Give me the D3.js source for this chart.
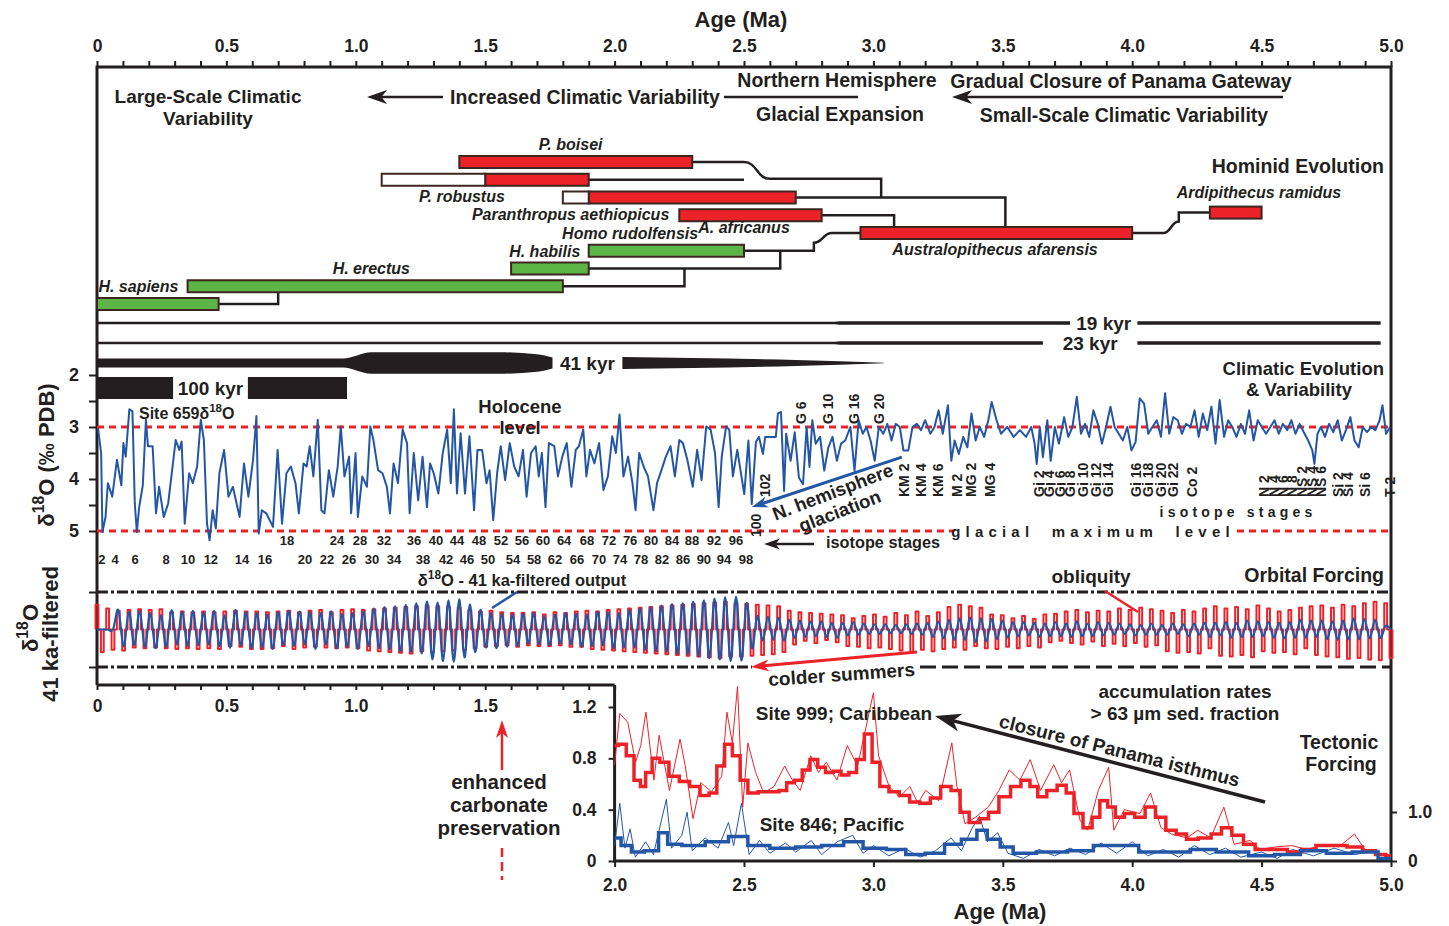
<!DOCTYPE html>
<html>
<head>
<meta charset="utf-8">
<script src="https://cdn.jsdelivr.net/npm/d3@7"></script>
<style>
body { margin: 0; background: #fff; }
text { font-family: "Liberation Sans", Arial, Helvetica, sans-serif; font-weight: bold; }
</style>
</head>
<body>
<div id="chart"></div>
<script>
// ---- data ----
var ageTicks = d3.range(0, 5.001, 0.1);

// Site 659 d18O (age Ma, permil)
var site659 = [
[0.004,3.02],[0.016,3.50],[0.021,5.02],[0.033,4.73],[0.042,4.08],[0.059,4.34],[0.077,3.63],[0.094,4.12],[0.102,3.31],[0.111,3.57],
[0.125,2.66],[0.137,2.70],[0.146,4.47],[0.154,5.02],[0.163,4.54],[0.177,4.12],[0.189,2.86],[0.197,3.37],[0.215,3.37],[0.228,4.66],
[0.240,4.15],[0.258,4.73],[0.275,4.47],[0.292,3.76],[0.304,3.25],[0.318,3.44],[0.327,3.28],[0.339,4.86],[0.356,3.89],[0.370,4.08],
[0.387,3.76],[0.401,2.86],[0.413,3.25],[0.425,4.86],[0.435,5.18],[0.447,4.60],[0.459,4.95],[0.473,3.89],[0.491,3.44],[0.508,4.34],
[0.525,4.15],[0.551,4.73],[0.568,3.70],[0.585,4.34],[0.603,3.63],[0.616,2.79],[0.625,5.05],[0.637,4.60],[0.654,4.66],[0.680,4.92],
[0.698,3.44],[0.715,4.86],[0.732,3.89],[0.749,3.76],[0.767,4.08],[0.780,4.66],[0.798,3.70],[0.810,3.76],[0.822,3.37],[0.836,3.95],
[0.853,2.86],[0.867,4.60],[0.879,4.66],[0.896,3.83],[0.913,4.34],[0.930,3.76],[0.942,2.99],[0.956,3.95],[0.974,3.57],[0.982,4.66],
[0.999,3.50],[1.008,4.73],[1.025,3.95],[1.043,4.15],[1.056,2.99],[1.068,3.25],[1.086,3.83],[1.103,3.89],[1.120,4.15],[1.132,4.66],
[1.146,3.70],[1.163,4.08],[1.181,3.05],[1.198,3.31],[1.208,4.66],[1.224,3.50],[1.241,4.41],[1.258,3.57],[1.275,4.54],[1.287,3.70],
[1.301,3.89],[1.319,4.28],[1.336,3.50],[1.353,3.05],[1.367,4.08],[1.379,2.66],[1.391,4.28],[1.405,3.12],[1.422,4.28],[1.439,3.18],
[1.457,4.60],[1.470,3.44],[1.488,3.44],[1.505,4.08],[1.517,3.83],[1.531,4.79],[1.546,3.89],[1.560,3.37],[1.577,4.02],[1.595,3.31],
[1.612,3.76],[1.629,3.95],[1.646,3.44],[1.660,4.34],[1.677,3.50],[1.695,3.37],[1.707,3.95],[1.719,3.50],[1.733,4.54],[1.746,3.31],
[1.767,3.37],[1.781,3.95],[1.798,3.57],[1.815,3.31],[1.833,4.15],[1.850,3.44],[1.862,3.37],[1.879,3.05],[1.891,3.95],[1.905,3.44],
[1.922,3.70],[1.940,3.31],[1.957,4.21],[1.974,3.95],[1.991,3.18],[2.005,3.50],[2.019,2.76],[2.034,3.95],[2.052,3.57],[2.069,4.08],
[2.081,4.60],[2.095,3.50],[2.112,3.76],[2.129,3.95],[2.150,4.60],[2.164,4.08],[2.181,3.83],[2.198,3.57],[2.216,3.37],[2.233,3.95],
[2.250,3.25],[2.264,3.31],[2.281,3.63],[2.302,4.15],[2.319,3.44],[2.336,4.02],[2.354,2.99],[2.371,3.05],[2.388,3.50],[2.402,4.54],
[2.414,3.57],[2.431,2.99],[2.443,3.05],[2.457,3.95],[2.474,3.44],[2.501,4.29],[2.517,3.26],[2.530,4.48],[2.546,3.29],[2.558,3.19],
[2.573,3.52],[2.582,3.19],[2.623,3.19],[2.631,2.74],[2.643,2.71],[2.655,4.23],[2.663,3.13],[2.680,3.65],[2.696,3.10],[2.712,3.97],
[2.728,4.10],[2.742,3.00],[2.753,3.77],[2.764,2.87],[2.777,3.32],[2.794,3.19],[2.810,3.84],[2.826,3.39],[2.842,3.19],[2.859,3.65],
[2.875,3.32],[2.891,3.26],[2.911,3.00],[2.927,3.84],[2.943,2.87],[2.959,3.13],[2.973,3.00],[2.989,3.26],[3.005,3.65],[3.021,3.00],
[3.038,3.13],[3.054,2.94],[3.070,3.26],[3.086,2.94],[3.102,3.00],[3.116,3.45],[3.135,3.45],[3.151,3.00],[3.168,2.94],[3.184,3.06],
[3.200,2.87],[3.220,3.13],[3.236,3.00],[3.252,2.68],[3.268,3.13],[3.288,2.58],[3.301,3.65],[3.314,3.26],[3.330,3.52],[3.347,3.19],
[3.363,3.39],[3.379,2.74],[3.395,3.26],[3.411,3.00],[3.428,3.19],[3.444,2.87],[3.457,2.52],[3.476,2.87],[3.493,3.13],[3.517,3.00],
[3.542,3.19],[3.566,3.06],[3.590,3.19],[3.610,3.00],[3.623,3.32],[3.631,3.71],[3.643,3.00],[3.655,3.58],[3.672,2.87],[3.685,3.65],
[3.701,3.00],[3.717,3.32],[3.737,2.81],[3.753,3.19],[3.769,3.00],[3.786,2.42],[3.802,3.13],[3.818,2.94],[3.834,3.19],[3.850,2.68],
[3.867,2.94],[3.883,3.32],[3.899,3.00],[3.916,2.61],[3.932,3.00],[3.948,3.13],[3.964,3.26],[3.981,3.00],[3.997,3.45],[4.013,3.29],
[4.029,2.45],[4.046,2.55],[4.062,3.13],[4.078,3.00],[4.095,2.87],[4.111,3.19],[4.127,2.35],[4.143,3.13],[4.159,2.81],[4.176,2.87],
[4.192,3.13],[4.208,2.94],[4.225,3.00],[4.241,2.68],[4.257,3.19],[4.273,2.74],[4.290,3.06],[4.306,2.61],[4.322,3.32],[4.338,2.48],
[4.355,3.19],[4.371,2.87],[4.387,3.00],[4.403,3.19],[4.420,2.94],[4.436,3.13],[4.452,2.68],[4.469,3.26],[4.485,2.87],[4.501,3.00],
[4.517,3.13],[4.534,3.00],[4.550,2.87],[4.566,3.13],[4.582,2.94],[4.599,3.06],[4.615,2.87],[4.631,3.13],[4.647,2.94],[4.663,3.10],
[4.680,3.26],[4.696,3.45],[4.704,3.71],[4.716,3.13],[4.729,3.00],[4.745,3.19],[4.761,2.94],[4.777,3.10],[4.794,2.87],[4.810,3.26],
[4.826,3.06],[4.843,2.81],[4.859,3.26],[4.875,3.39],[4.891,3.00],[4.907,3.10],[4.924,3.00],[4.940,3.06],[4.956,2.87],[4.967,2.58],
[4.981,3.13],[4.997,3.00]
];
var holoceneLevel = 3, glacialLevel = 5;

// 41 ka filtered d18O and obliquity: size of successive extremes (alternate up/down)
var filtAmp = [
0,0,0,0,52,45,48,42,50,46, 44,50,38,46,52,40,48,44,50,42, 46,40,50,44,38,48,52,42,46,50,
44,48,40,52,46,42,50,44,48,40, 46,52,44,40,48,50,42,46,44,52, 48,44,56,50,60,54,62,58,66,60,
70,64,74,80,72,84,78,86,80,74, 66,60,52,48,44,50,42,46,40,44, 42,38,44,40,36,42,40,38,44,40,
42,46,40,44,48,42,46,50,44,48, 52,48,56,54,60,58,64,60,68,64, 70,66,74,72,78,76,82,80,86,84,
88,82,70,50,36,30,34,28,32,30, 26,22,24,20,22,18,22,20,18,22, 18,16,20,14,16,12,14,12,14,10,
12,10,14,12,16,14,18,20,22,24, 26,28,30,28,32,34,30,32,28,26, 24,22,20,18,20,16,18,20,16,18,
20,18,16,20,22,18,16,18,20,16, 18,14,16,12,14,16,12,14,16,14, 12,14,16,12,14,18,16,14,18,20,
18,16,20,22,18,20,24,20,22,18, 20,22,18,24,20,22,26,22,24,20, 24,26,22,28,24,26,30,26,28,24,
26,22,10,0];
var oblAmp = [
66,60,56,54,50,56,52,48,54,50, 52,48,54,50,46,52,48,50,46,52, 48,50,46,52,48,44,50,46,48,52,
48,52,46,50,48,44,50,52,46,48, 50,46,52,48,46,50,52,48,54,50, 52,56,54,58,56,60,58,62,60,64,
62,58,64,60,62,58,60,56,58,54, 52,50,48,46,50,44,46,42,44,46, 44,42,46,44,40,44,46,42,44,46,
48,46,50,52,48,54,52,56,54,58, 56,60,58,62,60,64,62,66,64,68, 66,70,68,72,70,74,72,76,74,72,
70,72,68,70,66,68,64,66,62,60, 50,40,46,30,44,36,42,28,40,34, 38,44,30,46,36,50,40,48,34,52,
44,56,38,60,48,54,36,58,46,52, 60,48,66,54,62,44,58,50,40,52, 38,46,30,50,36,44,28,48,40,34,
42,30,48,36,52,40,46,32,50,44, 48,38,56,44,52,36,58,46,54,42, 50,58,44,62,52,60,48,64,56,50,
62,70,56,72,60,68,54,74,64,58, 56,62,48,60,52,66,58,50,62,68, 64,72,58,74,66,78,62,76,70,80,
74,82,70,76];

// accumulation rates > 63 um (Site 999 Caribbean, Site 846 Pacific)
var site999Raw = [
[2.00,0.75],[2.020,1.15],[2.051,1.08],[2.081,0.77],[2.101,0.90],[2.121,1.16],[2.152,0.63],[2.172,0.98],[2.212,0.55],[2.253,0.95],
[2.273,0.74],[2.303,0.33],[2.333,0.61],[2.374,0.54],[2.414,0.66],[2.434,1.16],[2.455,0.92],[2.475,1.36],[2.495,0.42],[2.515,0.92],
[2.545,0.69],[2.576,0.53],[2.616,0.58],[2.657,0.74],[2.687,0.63],[2.717,0.55],[2.758,0.82],[2.788,0.69],[2.818,0.77],[2.859,0.63],
[2.899,0.90],[2.939,0.74],[2.970,1.03],[3.000,1.31],[3.020,0.82],[3.061,0.58],[3.101,0.50],[3.141,0.58],[3.172,0.45],[3.202,0.55],
[3.253,0.47],[3.303,0.92],[3.323,0.58],[3.354,0.29],[3.394,0.34],[3.444,0.42],[3.485,0.55],[3.525,0.71],[3.566,0.63],[3.606,0.79],
[3.646,0.55],[3.697,0.75],[3.727,0.61],[3.758,0.71],[3.798,0.32],[3.828,0.24],[3.869,0.55],[3.909,0.73],[3.929,0.24],[3.970,0.40],
[4.030,0.37],[4.071,0.53],[4.111,0.26],[4.152,0.21],[4.212,0.18],[4.253,0.24],[4.303,0.18],[4.354,0.42],[4.394,0.13],[4.455,0.16],
[4.495,0.09],[4.556,0.11],[4.616,0.12],[4.677,0.09],[4.737,0.13],[4.798,0.11],[4.859,0.21],[4.899,0.09],[4.960,0.05],[5.000,0.03]];
var site999Mean = [
[2.0,0.90],[2.03,0.91],[2.06,0.82],[2.09,0.63],[2.11,0.58],[2.13,0.69],[2.16,0.80],[2.19,0.77],[2.23,0.66],[2.27,0.62],[2.31,0.58],
[2.35,0.51],[2.38,0.53],[2.41,0.74],[2.44,0.91],[2.47,0.82],[2.5,0.63],[2.53,0.53],[2.58,0.54],[2.62,0.54],[2.65,0.55],[2.68,0.61],
[2.71,0.63],[2.74,0.71],[2.77,0.79],[2.8,0.73],[2.83,0.69],[2.86,0.70],[2.89,0.67],[2.92,0.69],[2.95,0.79],[2.98,0.99],[3.01,0.77],
[3.04,0.58],[3.08,0.54],[3.12,0.51],[3.16,0.46],[3.2,0.45],[3.24,0.49],[3.28,0.58],[3.32,0.55],[3.35,0.38],[3.39,0.30],[3.43,0.33],
[3.46,0.38],[3.51,0.50],[3.55,0.58],[3.59,0.63],[3.62,0.58],[3.65,0.50],[3.69,0.55],[3.73,0.59],[3.76,0.53],[3.79,0.37],[3.83,0.26],
[3.86,0.34],[3.89,0.47],[3.92,0.42],[3.95,0.34],[3.99,0.37],[4.03,0.34],[4.07,0.42],[4.11,0.34],[4.15,0.24],[4.19,0.21],[4.23,0.17],
[4.28,0.18],[4.33,0.21],[4.36,0.26],[4.41,0.20],[4.45,0.13],[4.5,0.09],[4.57,0.09],[4.63,0.07],[4.68,0.09],[4.74,0.12],[4.8,0.12],
[4.86,0.11],[4.92,0.08],[4.96,0.05],[5.0,0.04]];
var site846Raw = [
[2.0,0.12],[2.02,0.45],[2.04,0.10],[2.06,0.25],[2.08,0.03],[2.12,0.15],[2.15,0.05],[2.2,0.48],[2.22,0.10],[2.26,0.20],[2.28,0.38],
[2.3,0.08],[2.35,0.18],[2.4,0.10],[2.44,0.30],[2.46,0.12],[2.49,0.45],[2.52,0.05],[2.56,0.16],[2.6,0.06],[2.66,0.14],[2.7,0.07],
[2.76,0.16],[2.8,0.05],[2.86,0.15],[2.92,0.20],[2.96,0.06],[3.0,0.12],[3.06,0.04],[3.12,0.10],[3.18,0.03],[3.24,0.08],[3.3,0.18],
[3.34,0.08],[3.38,0.25],[3.41,0.35],[3.44,0.15],[3.48,0.22],[3.52,0.06],[3.58,0.02],[3.64,0.09],[3.7,0.04],[3.76,0.10],[3.82,0.05],
[3.88,0.14],[3.94,0.06],[4.0,0.15],[4.06,0.04],[4.12,0.09],[4.18,0.03],[4.24,0.12],[4.3,0.05],[4.36,0.10],[4.42,0.03],[4.5,0.07],
[4.56,0.02],[4.62,0.09],[4.7,0.04],[4.78,0.10],[4.86,0.05],[4.94,0.08],[5.0,0.01]];
var site846Mean = [
[2.0,0.18],[2.05,0.12],[2.08,0.07],[2.15,0.08],[2.19,0.22],[2.22,0.13],[2.3,0.12],[2.4,0.15],[2.48,0.19],[2.55,0.12],[2.65,0.10],
[2.75,0.11],[2.85,0.12],[2.92,0.15],[3.0,0.10],[3.1,0.09],[3.15,0.05],[3.25,0.06],[3.3,0.13],[3.38,0.17],[3.42,0.24],[3.46,0.17],
[3.52,0.11],[3.56,0.06],[3.7,0.07],[3.8,0.08],[3.9,0.12],[4.0,0.12],[4.05,0.07],[4.2,0.07],[4.25,0.09],[4.4,0.07],[4.5,0.04],
[4.6,0.05],[4.7,0.08],[4.8,0.06],[4.9,0.07],[5.0,0.02]];

// orbital cycles: relative power through time, split where the label sits
var cycles = [
  {name: "19 kyr", parts: [[[0,0.11],[2.85,0.11],[2.87,0.16],[3.76,0.16]], [[4.02,0.16],[4.96,0.16]]]},
  {name: "23 kyr", parts: [[[0,0.11],[2.85,0.11],[2.87,0.16],[3.655,0.16]], [[4.02,0.16],[4.96,0.16]]]},
  {name: "41 kyr", parts: [[[0,0.41],[0.95,0.41],[1.06,0.98],[1.55,0.98],[1.70,0.8],[1.76,0.5]], [[2.03,0.55],[2.3,0.46],[2.7,0.28],[3.04,0.02]]]},
  {name: "100 kyr", parts: [[[0,1],[0.294,1]], [[0.583,1],[0.966,1]]]}
];

// hominid ranges (Ma)
var species = [
  {name: "P. boisei", row: 0, from: 1.4, to: 2.3, clade: "aust"},
  {name: "P. robustus", row: 1, from: 1.5, to: 1.9, clade: "aust"},
  {name: "Paranthropus aethiopicus", row: 2, from: 1.9, to: 2.7, clade: "aust"},
  {name: "A. africanus", row: 3, from: 2.25, to: 2.8, clade: "aust"},
  {name: "Australopithecus afarensis", row: 4, from: 2.95, to: 4.0, clade: "aust"},
  {name: "Ardipithecus ramidus", row: 2.85, from: 4.3, to: 4.5, clade: "aust"},
  {name: "Homo rudolfensis", row: 5, from: 1.9, to: 2.5, clade: "homo"},
  {name: "H. habilis", row: 6, from: 1.6, to: 1.9, clade: "homo"},
  {name: "H. erectus", row: 7, from: 0.35, to: 1.8, clade: "homo"},
  {name: "H. sapiens", row: 8, from: 0, to: 0.47, clade: "homo"}
];
var speciesUncertain = [{row: 1, from: 1.1, to: 1.5}, {row: 2, from: 1.8, to: 1.9}];
var speciesLabels = [
  ["P. boisei", 1.83, 0, -1], ["P. robustus", 1.41, 1, 1], ["Paranthropus aethiopicus", 1.83, 2, 1],
  ["A. africanus", 2.50, 3, 0.75], ["Australopithecus afarensis", 3.47, 4, 1], ["Ardipithecus ramidus", 4.49, 2.85, -1.15],
  ["Homo rudolfensis", 2.06, 5, -1], ["H. habilis", 1.73, 6, -1], ["H. erectus", 1.06, 7, -1], ["H. sapiens", 0.16, 8, -1]
];
var treeLinks = [
  [[2.3,0],[2.5,0],[2.6,0.95],[3.03,0.95],[3.03,2]],
  [[1.9,1],[2.5,1]],
  [[2.7,2],[3.51,2],[3.51,3.66]],
  [[2.8,3],[3.08,3],[3.08,3.66]],
  [[2.95,4],[2.84,4],[2.77,4.55],[2.77,5],[2.5,5]],
  [[1.9,6],[2.64,6],[2.64,5]],
  [[1.8,7],[2.27,7],[2.27,6]],
  [[0.47,8],[0.7,8],[0.7,7.35]],
  [[4.3,2.85],[4.18,2.85],[4.18,3.35],[4.12,4],[4.0,4]]
];

// isotope stage names and ages
var stagesUpper = [["18",0.734],["24",0.927],["28",1.016],["32",1.109],["36",1.225],["40",1.310],["44",1.391],["48",1.476],["52",1.561],["56",1.642],
  ["60",1.723],["64",1.805],["68",1.893],["72",1.978],["76",2.060],["80",2.141],["84",2.222],["88",2.299],["92",2.384],["96",2.469]];
var stagesLower = [["2",0.019],["4",0.070],["6",0.147],["8",0.267],["10",0.352],["12",0.440],["14",0.560],["16",0.649],["20",0.804],["22",0.889],
  ["26",0.974],["30",1.063],["34",1.148],["38",1.260],["42",1.349],["46",1.430],["50",1.511],["54",1.607],["58",1.689],["62",1.770],
  ["66",1.855],["70",1.940],["74",2.021],["78",2.102],["82",2.183],["86",2.264],["90",2.345],["94",2.423],["98",2.508]];
var stagesGauss = [["G 6",2.720],["G 10",2.825],["G 16",2.925],["G 20",3.022]];
var stagesGilbert = [["102",2.581],["KM 2",3.118],["KM 4",3.184],["KM 6",3.250],["M 2",3.323],["MG 2",3.377],["MG 4",3.451],
  ["Gi 2",3.640],["Gi 4",3.679],["Gi 6",3.721],["Gi 8",3.760],["Gi 10",3.810],["Gi 12",3.860],["Gi 14",3.906],
  ["Gi 16",4.015],["Gi 18",4.061],["Gi 20",4.111],["Gi 22",4.158],["Co 2",4.231],
  ["N 2",4.509],["N 4",4.548],["N 6",4.583],["N 8",4.617],["NS 2",4.656],["NS 4",4.695],["NS 6",4.730],
  ["Si 2",4.795],["Si 4",4.834],["Si 6",4.900],["T 2",4.996]];
var stage100 = [["100",2.546]];

// ---- drawing ----
var ink = "#231f20", red = "#ec2229", blue = "#2456a6", green = "#5db548", barEdge = "#3d2620";

var svg = d3.select("#chart").append("svg")
    .attr("width", 1449)
    .attr("height", 926)
    .style("color", ink);

var x = d3.scaleLinear().domain([0, 5]).range([97, 1391]);
var yIso = d3.scaleLinear().domain([2, 5]).range([375, 531]);
var yFilt = d3.scaleLinear().domain([-100, 100]).range([667, 592]);
var yAcc = d3.scaleLinear().domain([0, 1.2]).range([861, 707]);
var yAccR = d3.scaleLinear().domain([0, 1]).range([861, 812]);
var yRow = d3.scaleLinear().domain([0, 8]).range([162, 304]);
var yCyc = d3.scaleOrdinal().domain(cycles.map(function (c) { return c.name; })).range([323, 343, 363, 388]);
var wCyc = d3.scaleLinear().domain([0, 1]).range([0, 22]);

function txt(x0, y0, s, o) {
    o = o || {};
    var t = svg.append("text")
        .attr("x", x0).attr("y", y0)
        .attr("font-size", o.size || 19)
        .attr("text-anchor", o.anchor || "middle")
        .attr("fill", o.fill || ink)
        .text(s);
    if (o.italic) t.attr("font-style", "italic");
    if (o.rotate) t.attr("transform", "rotate(" + o.rotate + "," + x0 + "," + y0 + ")");
    if (o.ls) t.attr("letter-spacing", o.ls);
    if (o.ws) t.attr("word-spacing", o.ws);
    return t;
}

// d18O text with superscript 18
function deltaText(x0, y0, before, after, o) {
    o = o || {};
    var size = o.size || 17;
    var t = svg.append("text")
        .attr("x", x0).attr("y", y0)
        .attr("font-size", size)
        .attr("text-anchor", o.anchor || "middle")
        .attr("fill", ink);
    if (o.rotate) t.attr("transform", "rotate(" + o.rotate + "," + x0 + "," + y0 + ")");
    t.append("tspan").text(before + "\u03b4");
    t.append("tspan").attr("dy", -size * 0.45).attr("font-size", size * 0.72).text("18");
    t.append("tspan").attr("dy", size * 0.45).text("O" + after);
    return t;
}

function arrow(x1, y1, x2, y2, color, w, headL, headW) {
    var a = Math.atan2(y2 - y1, x2 - x1);
    var bx = x2 - Math.cos(a) * headL * 0.7, by = y2 - Math.sin(a) * headL * 0.7;
    svg.append("line").attr("x1", x1).attr("y1", y1).attr("x2", bx).attr("y2", by)
        .attr("stroke", color).attr("stroke-width", w);
    var px = -Math.sin(a), py = Math.cos(a);
    var bl = [x2 - Math.cos(a) * headL, y2 - Math.sin(a) * headL];
    var notch = [x2 - Math.cos(a) * headL * 0.72, y2 - Math.sin(a) * headL * 0.72];
    svg.append("path")
        .attr("d", "M" + x2 + "," + y2 +
            "L" + (bl[0] + px * headW / 2) + "," + (bl[1] + py * headW / 2) +
            "L" + notch[0] + "," + notch[1] +
            "L" + (bl[0] - px * headW / 2) + "," + (bl[1] - py * headW / 2) + "Z")
        .attr("fill", color);
}

function styleAxis(g, size) {
    g.attr("font-size", size || 17.5);
    g.select(".domain").remove();
    g.selectAll(".tick line").attr("stroke-width", 2);
}

// top age axis
svg.append("g").attr("transform", "translate(0,67)")
    .call(d3.axisTop(x).tickValues(ageTicks).tickSize(6).tickPadding(9)
        .tickFormat(function (d) {
            var h = Math.round(d * 10);
            if (h % 5 !== 0) return "";
            return h === 0 ? "0" : d3.format(".1f")(d);
        }))
    .call(styleAxis, 17.5);
txt(741, 27, "Age (Ma)", {size: 22});

// d18O axis
svg.append("g").attr("transform", "translate(97,0)")
    .call(d3.axisLeft(yIso).tickValues([2, 2.5, 3, 3.5, 4, 4.5, 5]).tickSize(8).tickPadding(10)
        .tickFormat(function (d) { return d % 1 === 0 ? d : ""; }))
    .call(styleAxis, 18);
svg.append("g").attr("transform", "translate(97,0)")
    .call(d3.axisLeft(yFilt).tickValues([-100, 100]).tickSize(8).tickFormat(""))
    .call(styleAxis);

// lower age axis 0 - 2 Ma
svg.append("g").attr("transform", "translate(0,685)")
    .call(d3.axisBottom(x).tickValues(ageTicks.filter(function (d) { return d < 2.05; })).tickSize(5).tickPadding(10)
        .tickFormat(function (d) {
            var h = Math.round(d * 10);
            if (h % 5 !== 0 || h === 20) return "";
            return h === 0 ? "0" : d3.format(".1f")(d);
        }))
    .call(styleAxis, 17.5);
svg.append("line").attr("x1", x(0)).attr("x2", x(2)).attr("y1", 685).attr("y2", 685)
    .attr("stroke", ink).attr("stroke-width", 3);

// accumulation panel axes
svg.append("g").attr("transform", "translate(0,861)")
    .call(d3.axisBottom(x).tickValues(d3.range(2, 5.01, 0.5)).tickSize(6).tickPadding(12).tickFormat(d3.format(".1f")))
    .call(styleAxis, 17.5);
svg.append("g").attr("transform", "translate(" + x(2) + ",0)")
    .call(d3.axisLeft(yAcc).tickValues([0, 0.4, 0.8, 1.2]).tickSize(6).tickPadding(12)
        .tickFormat(function (d) { return d === 0 ? "0" : d3.format(".1f")(d); }))
    .call(styleAxis, 17.5);
svg.append("g").attr("transform", "translate(" + x(5) + ",0)")
    .call(d3.axisRight(yAccR).tickValues([0, 1]).tickSize(6).tickPadding(11)
        .tickFormat(function (d) { return d === 0 ? "0" : d3.format(".1f")(d); }))
    .call(styleAxis, 17.5);
svg.append("path")
    .attr("d", "M" + x(2) + ",685V" + yAcc(0) + "H" + x(5))
    .attr("fill", "none").attr("stroke", ink).attr("stroke-width", 3);
txt(1000, 919, "Age (Ma)", {size: 22});

// frame
svg.append("path")
    .attr("d", "M" + x(0) + ",685V67H" + x(5) + "V" + yAcc(0))
    .attr("fill", "none").attr("stroke", ink).attr("stroke-width", 3);

// header texts
txt(208, 103, "Large-Scale Climatic", {size: 19});
txt(208, 124.5, "Variability", {size: 19});
arrow(443, 97, 367, 97, ink, 2.5, 20, 14);
txt(585, 104, "Increased Climatic Variability", {size: 19.5});
svg.append("line").attr("x1", 724).attr("x2", 858).attr("y1", 97).attr("y2", 97).attr("stroke", ink).attr("stroke-width", 2.5);
txt(837, 87, "Northern Hemisphere", {size: 19.5});
txt(840, 121, "Glacial Expansion", {size: 19.5});
txt(1121, 88, "Gradual Closure of Panama Gateway", {size: 19.5});
arrow(1283, 97, 952, 97, ink, 2.5, 20, 14);
txt(1124, 122, "Small-Scale Climatic Variability", {size: 19.5});
txt(1384, 173, "Hominid Evolution", {size: 19.5, anchor: "end"});

// hominid tree
var linkLine = d3.line()
    .x(function (d) { return x(d[0]); })
    .y(function (d) { return yRow(d[1]); })
    .curve(d3.curveBumpX);
svg.append("g").selectAll("path").data(treeLinks).enter().append("path")
    .attr("d", linkLine)
    .attr("fill", "none").attr("stroke", ink).attr("stroke-width", 2.5);

var bars = svg.append("g");
bars.selectAll("rect.sp").data(species).enter().append("rect")
    .attr("class", "sp")
    .attr("x", function (d) { return x(d.from); })
    .attr("y", function (d) { return yRow(d.row) - 6; })
    .attr("width", function (d) { return x(d.to) - x(d.from); })
    .attr("height", 12)
    .attr("fill", function (d) { return d.clade === "homo" ? green : red; })
    .attr("stroke", barEdge).attr("stroke-width", 2);
bars.selectAll("rect.un").data(speciesUncertain).enter().append("rect")
    .attr("class", "un")
    .attr("x", function (d) { return x(d.from); })
    .attr("y", function (d) { return yRow(d.row) - 6; })
    .attr("width", function (d) { return x(d.to) - x(d.from); })
    .attr("height", 12)
    .attr("fill", "#fff")
    .attr("stroke", barEdge).attr("stroke-width", 2);
speciesLabels.forEach(function (l) {
    txt(x(l[1]), yRow(l[2]) + l[3] * 17 + 5, l[0], {size: 16, italic: true});
});

// orbital cycle bands
cycles.forEach(function (c) {
    var cy = yCyc(c.name);
    var band = d3.area()
        .x(function (d) { return x(d[0]); })
        .y0(function (d) { return cy - wCyc(d[1]) / 2; })
        .y1(function (d) { return cy + wCyc(d[1]) / 2; })
        .curve(d3.curveMonotoneX);
    c.parts.forEach(function (p) {
        svg.append("path").attr("d", band(p)).attr("fill", ink);
    });
    var gapMid = (c.parts[0][c.parts[0].length - 1][0] + c.parts[1][0][0]) / 2;
    txt(x(gapMid), cy + 7, c.name, {size: 19});
});

// climate panel
txt(1384, 375, "Climatic Evolution", {size: 18.5, anchor: "end"});
txt(1299, 396, "& Variability", {size: 18.5});

[holoceneLevel, glacialLevel].forEach(function (v) {
    svg.append("line").attr("x1", x(0)).attr("x2", x(5)).attr("y1", yIso(v)).attr("y2", yIso(v))
        .attr("stroke", red).attr("stroke-width", 3).attr("stroke-dasharray", "7,5");
});

svg.append("path").datum(site659)
    .attr("d", d3.line().x(function (d) { return x(d[0]); }).y(function (d) { return yIso(d[1]); }))
    .attr("fill", "none").attr("stroke", blue).attr("stroke-width", 2).attr("stroke-linejoin", "round");

deltaText(139, 419, "Site 659", "", {size: 16, anchor: "start"});
txt(520, 413, "Holocene", {size: 18.5});
txt(520, 434, "level", {size: 18.5});

svg.append("rect").attr("x", 954).attr("y", 522).attr("width", 278).attr("height", 18).attr("fill", "#fff");
txt(1093, 537, "glacial maximum level", {size: 15, ls: 5.2, ws: 8});
txt(1238, 517, "isotope stages", {size: 14, ls: 4.2});

stagesUpper.forEach(function (s) { txt(x(s[1]), 545, s[0], {size: 13}); });
stagesLower.forEach(function (s) { txt(x(s[1]), 564, s[0], {size: 13}); });
stagesGauss.forEach(function (s) { txt(x(s[1]) + 5, 424, s[0], {size: 14, anchor: "start", rotate: -90}); });
stagesGilbert.forEach(function (s) { txt(x(s[1]) + 5, 497, s[0], {size: 14, anchor: "start", rotate: -90}); });
stage100.forEach(function (s) { txt(x(s[1]) + 5, 537, s[0], {size: 14, anchor: "start", rotate: -90}); });

arrow(x(3.11), yIso(3.58), x(2.53), yIso(4.54), blue, 3, 16, 11);
txt(835, 498, "N. hemisphere", {size: 18.5, rotate: -21});
txt(842, 517, "glaciation", {size: 18.5, rotate: -21});
arrow(814, 544, 764, 544, ink, 2.5, 16, 11);
txt(826, 548, "isotope stages", {size: 16.3, anchor: "start"});

// left axis titles
deltaText(54, 455, "", " (\u2030 PDB)", {size: 22, rotate: -90});
deltaText(38, 628, "", "", {size: 22, rotate: -90});
txt(58, 634, "41 ka-filtered", {size: 22, rotate: -90});

// orbital forcing panel
function dashDot(x1, x2, y, dash) {
    svg.append("line").attr("x1", x1).attr("x2", x2).attr("y1", y).attr("y2", y)
        .attr("stroke", ink).attr("stroke-width", 3).attr("stroke-dasharray", dash);
}
dashDot(x(0), x(5), yFilt(100), "11,3,3,3");
dashDot(x(0), 752, yFilt(-100), "11,3,3,3");
dashDot(920, x(5), yFilt(-100), "16,6");

var filtAge = filtAmp.map(function (a, i) { return i * 5 / (filtAmp.length - 1); });
var oblSeries = oblAmp.map(function (a, i) { return [filtAge[i], i % 2 ? -a : a]; });
var filtSeries = filtAmp.map(function (a, i) { return [filtAge[i], i % 2 ? -a : a]; });

// obliquity drawn as narrow pulses about the mean, the way the original plots it
var pulseHalf = 0.0055;
var pulsePath = d3.path();
oblSeries.forEach(function (d, i) {
    var xa = x(d[0] - pulseHalf), xb = x(d[0] + pulseHalf);
    if (i === 0) pulsePath.moveTo(xa, yFilt(0)); else pulsePath.lineTo(xa, yFilt(0));
    pulsePath.lineTo(xa, yFilt(d[1]));
    pulsePath.lineTo(xb, yFilt(d[1]));
    pulsePath.lineTo(xb, yFilt(0));
});
svg.append("path").attr("d", pulsePath.toString())
    .attr("fill", "none").attr("stroke", red).attr("stroke-width", 2).attr("stroke-linejoin", "round");
svg.append("path").datum(filtSeries)
    .attr("d", d3.line().x(function (d) { return x(d[0]); }).y(function (d) { return yFilt(d[1]); }).curve(d3.curveCardinal))
    .attr("fill", "none").attr("stroke", blue).attr("stroke-width", 2.2);

deltaText(522, 586, "", " - 41 ka-filtered output", {size: 16.5});
svg.append("line").attr("x1", 517).attr("y1", 592).attr("x2", 492).attr("y2", 608).attr("stroke", blue).attr("stroke-width", 2.5);
txt(1091, 583, "obliquity", {size: 19});
svg.append("line").attr("x1", 1105).attr("y1", 591).attr("x2", 1138).attr("y2", 612).attr("stroke", red).attr("stroke-width", 2.5);
txt(1384, 582, "Orbital Forcing", {size: 19.5, anchor: "end"});
arrow(917, 652, 751, 667, red, 3, 18, 12);
txt(842, 681, "colder summers", {size: 19, rotate: -4});

// tectonic panel
var accLine = d3.line().x(function (d) { return x(d[0]); }).y(function (d) { return yAcc(d[1]); });
svg.append("path").datum(site999Raw).attr("d", accLine)
    .attr("fill", "none").attr("stroke", red).attr("stroke-width", 1);
svg.append("path").datum(site846Raw).attr("d", accLine)
    .attr("fill", "none").attr("stroke", blue).attr("stroke-width", 1);
svg.append("path").datum(site999Mean).attr("d", accLine.curve(d3.curveStep))
    .attr("fill", "none").attr("stroke", red).attr("stroke-width", 3.5);
svg.append("path").datum(site846Mean).attr("d", accLine.curve(d3.curveStep))
    .attr("fill", "none").attr("stroke", blue).attr("stroke-width", 3.5);

txt(1185, 698, "accumulation rates", {size: 19});
txt(1185, 719.5, "> 63 \u00b5m sed. fraction", {size: 19});
txt(844, 720, "Site 999; Caribbean", {size: 19});
arrow(1265, 802, 935, 716, ink, 3.5, 26, 18);
txt(1118, 757, "closure of Panama isthmus", {size: 19, rotate: 14});
txt(1339, 749, "Tectonic", {size: 19.5});
txt(1341, 771, "Forcing", {size: 19.5});
txt(832, 831, "Site 846; Pacific", {size: 19});

arrow(502, 770, 502, 720, red, 2.5, 18, 12);
svg.append("line").attr("x1", 502).attr("x2", 502).attr("y1", 848).attr("y2", 880)
    .attr("stroke", red).attr("stroke-width", 2.5).attr("stroke-dasharray", "9,5");
txt(499, 789, "enhanced", {size: 20.5});
txt(499, 812, "carbonate", {size: 20.5});
txt(499, 835, "preservation", {size: 20.5});
</script>
</body>
</html>
